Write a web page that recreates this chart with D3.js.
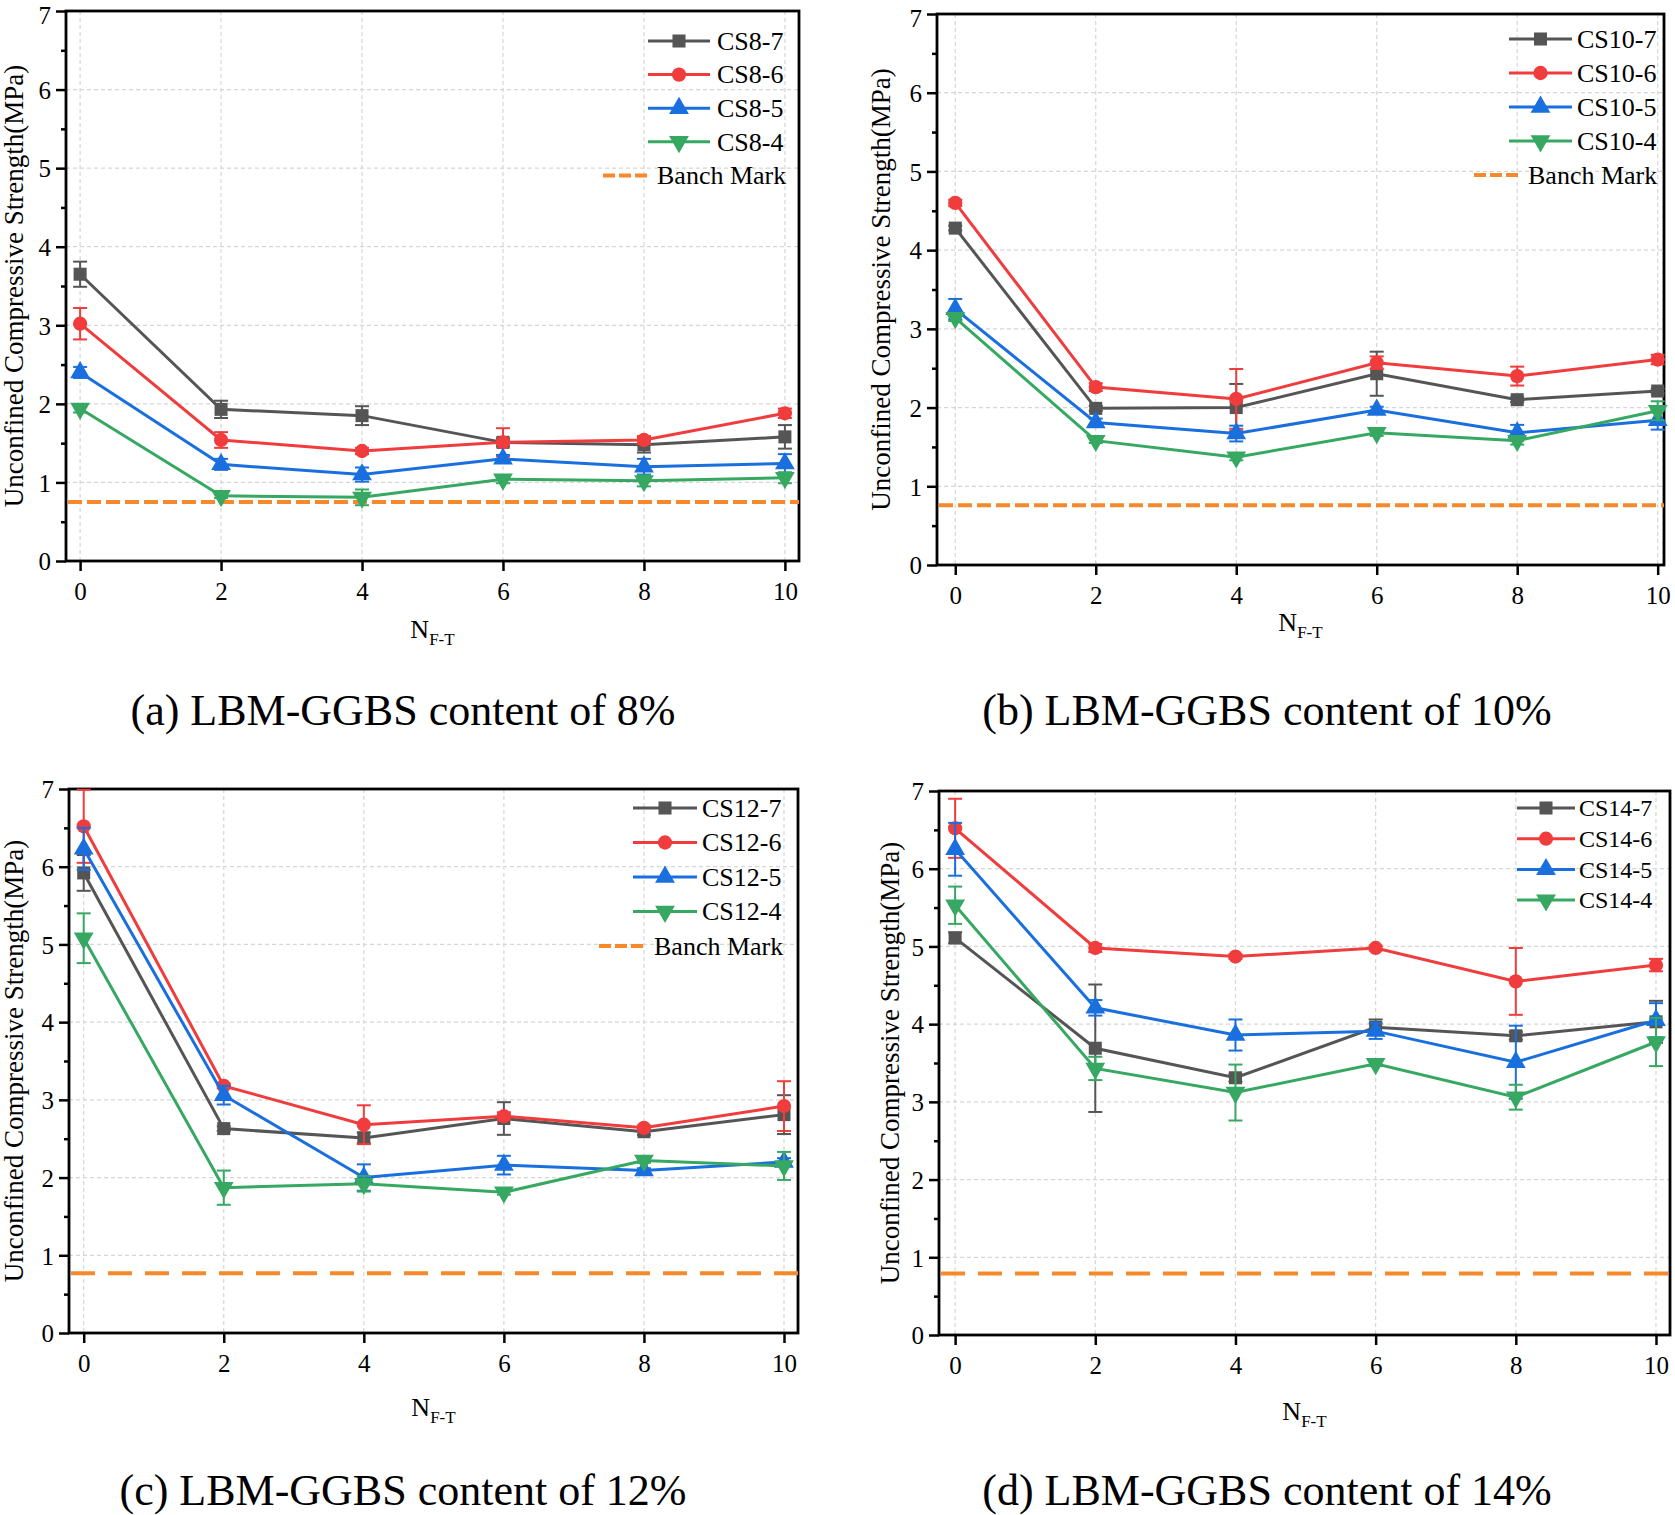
<!DOCTYPE html>
<html>
<head>
<meta charset="utf-8">
<script src="https://cdn.jsdelivr.net/npm/d3@7"></script>
<style>
  body { margin: 0; background: #fff; }
  svg { display: block; }
  text { font-family: "Liberation Serif", "Times New Roman", serif; fill: #000; }
</style>
</head>
<body>
<div id="chart"></div>
<script>
// ---- data ----
var cycles = [0, 2, 4, 6, 8, 10];
var yTicks = [0, 1, 2, 3, 4, 5, 6, 7];

var namesA = ["CS8-7", "CS8-6", "CS8-5", "CS8-4"];
var meanA = [
  [3.65, 1.93, 1.85, 1.51, 1.48, 1.58],
  [3.02, 1.54, 1.40, 1.51, 1.54, 1.88],
  [2.40, 1.23, 1.10, 1.30, 1.20, 1.24],
  [1.94, 0.83, 0.81, 1.04, 1.02, 1.06]
];
var errA = [
  [0.16, 0.11, 0.12, 0.05, 0.10, 0.15],
  [0.20, 0.10, 0.04, 0.18, 0.05, 0.06],
  [0.07, 0.07, 0.09, 0.05, 0.10, 0.12],
  [0.05, 0.03, 0.10, 0.05, 0.07, 0.07]
];

var namesB = ["CS10-7", "CS10-6", "CS10-5", "CS10-4"];
var meanB = [
  [4.28, 1.99, 2.00, 2.43, 2.10, 2.21],
  [4.60, 2.26, 2.11, 2.57, 2.40, 2.61],
  [3.25, 1.81, 1.67, 1.97, 1.68, 1.84],
  [3.14, 1.58, 1.37, 1.68, 1.58, 1.96]
];
var errB = [
  [0.03, 0.03, 0.30, 0.28, 0.03, 0.03],
  [0.04, 0.05, 0.38, 0.08, 0.12, 0.06],
  [0.13, 0.05, 0.10, 0.04, 0.10, 0.12],
  [0.04, 0.03, 0.04, 0.04, 0.05, 0.12]
];

var namesC = ["CS12-7", "CS12-6", "CS12-5", "CS12-4"];
var meanC = [
  [5.92, 2.63, 2.51, 2.76, 2.59, 2.81],
  [6.52, 3.18, 2.68, 2.79, 2.64, 2.92],
  [6.23, 3.06, 2.00, 2.16, 2.09, 2.20],
  [5.08, 1.87, 1.92, 1.81, 2.22, 2.15]
];
var errC = [
  [0.23, 0.03, 0.07, 0.21, 0.04, 0.25],
  [0.47, 0.03, 0.25, 0.05, 0.03, 0.32],
  [0.27, 0.12, 0.17, 0.12, 0.03, 0.05],
  [0.32, 0.22, 0.10, 0.03, 0.03, 0.18]
];

var namesD = ["CS14-7", "CS14-6", "CS14-5", "CS14-4"];
var meanD = [
  [5.11, 3.69, 3.31, 3.96, 3.85, 4.03],
  [6.52, 4.98, 4.87, 4.98, 4.55, 4.76],
  [6.25, 4.21, 3.86, 3.91, 3.51, 4.05],
  [5.53, 3.43, 3.12, 3.49, 3.06, 3.77]
];
var errD = [
  [0.07, 0.82, 0.05, 0.10, 0.05, 0.27],
  [0.38, 0.05, 0.03, 0.03, 0.43, 0.08],
  [0.34, 0.10, 0.20, 0.10, 0.47, 0.22],
  [0.24, 0.15, 0.36, 0.03, 0.16, 0.31]
];

var benchMarks = [0.75, 0.76, 0.77, 0.79];
var captions = ["(a) LBM-GGBS content of 8%", "(b) LBM-GGBS content of 10%",
                "(c) LBM-GGBS content of 12%", "(d) LBM-GGBS content of 14%"];

// ---- styles / layout ----
var colors = ["#555555", "#f03c3c", "#1a6fdf", "#36a862"];
var orange = "#f5892b";
var symbols = [d3.symbolSquare, d3.symbolCircle, d3.symbolTriangle, d3.symbolTriangle];
var symSize = [170, 160, 170, 170];
var symRot = [0, 0, 0, 180];

var panels = [
  {names: namesA, mean: meanA, err: errA, left: 66, right: 799, top: 11, bottom: 561, xd: [-0.2, 10.2],
   ytX: 23, xtY: 638, capX: 403, capY: 725, legY: 41, legDy: 33.6, legL: 648, legR: 710, legT: 717, legFs: 26,
   benchLeg: [603, 647, 657], benchEnd: 799, dash: "14,5"},
  {names: namesB, mean: meanB, err: errB, left: 937, right: 1664, top: 14, bottom: 565, xd: [-0.26, 10.09],
   ytX: 890, xtY: 631, capX: 1267, capY: 725, legY: 39, legDy: 34, legL: 1509, legR: 1572, legT: 1577, legFs: 26,
   benchLeg: [1474, 1519, 1528], benchEnd: 1664, dash: "14,5"},
  {names: namesC, mean: meanC, err: errC, left: 69, right: 798, top: 789, bottom: 1333, xd: [-0.21, 10.2],
   ytX: 23, xtY: 1416, capX: 403, capY: 1505, legY: 808, legDy: 34.5, legL: 633, legR: 697, legT: 702, legFs: 26,
   benchLeg: [599, 645, 654], benchEnd: 806, dash: "24,13"},
  {names: namesD, mean: meanD, err: errD, left: 939, right: 1670, top: 791, bottom: 1335, xd: [-0.23, 10.2],
   ytX: 899, xtY: 1420, capX: 1267, capY: 1505, legY: 808, legDy: 30.7, legL: 1517, legR: 1575, legT: 1579, legFs: 24,
   benchLeg: null, benchEnd: 1675, dash: "24,13"}
];

var svg = d3.select("#chart").append("svg")
    .attr("width", 1675)
    .attr("height", 1515);

panels.forEach(function(p, pi){
  var x = d3.scaleLinear().domain(p.xd).range([p.left, p.right]);
  var y = d3.scaleLinear().domain([0, 7]).range([p.bottom, p.top]);
  var g = svg.append("g");

  // grid
  g.selectAll(".gx").data(cycles).enter().append("line")
    .attr("x1", function(d){return x(d);}).attr("x2", function(d){return x(d);})
    .attr("y1", p.top).attr("y2", p.bottom)
    .style("stroke", "#d6d6d6").style("stroke-width", 1.2).style("stroke-dasharray", "4,3");
  g.selectAll(".gy").data(yTicks.slice(1, 7)).enter().append("line")
    .attr("y1", function(d){return y(d);}).attr("y2", function(d){return y(d);})
    .attr("x1", p.left).attr("x2", p.right)
    .style("stroke", "#d6d6d6").style("stroke-width", 1.2).style("stroke-dasharray", "4,3");

  // axes
  var yAxis = d3.axisLeft(y).tickValues(yTicks).tickSize(10).tickPadding(5).tickFormat(d3.format("d"));
  var ya = g.append("g").attr("transform", "translate(" + p.left + ",0)").call(yAxis);
  var yMinor = d3.axisLeft(y).tickValues(d3.range(0.5, 7, 1)).tickSize(5).tickFormat("");
  var ym = g.append("g").attr("transform", "translate(" + p.left + ",0)").call(yMinor);
  ym.select(".domain").remove();

  var xAxis = d3.axisBottom(x).tickValues(cycles).tickSize(10).tickPadding(6).tickFormat(d3.format("d"));
  var xa = g.append("g").attr("transform", "translate(0," + p.bottom + ")").call(xAxis);

  [ya, ym, xa].forEach(function(a){
    a.selectAll("line").style("stroke", "#000").style("stroke-width", 2.5);
    a.selectAll("text").style("font-size", "25px").style("font-family", "Liberation Serif");
    a.select(".domain").remove();
  });
  xa.selectAll("text").attr("dy", "0.9em");
  ya.selectAll("text").attr("dy", function(d){ return (d === 7 && p.top < 20) ? "0.5em" : "0.35em"; });

  // frame
  g.append("rect")
    .attr("x", p.left).attr("y", p.top)
    .attr("width", p.right - p.left).attr("height", p.bottom - p.top)
    .style("fill", "none").style("stroke", "#000").style("stroke-width", 2.8);

  // benchmark
  g.append("line")
    .attr("x1", p.left + 2).attr("x2", p.benchEnd)
    .attr("y1", y(benchMarks[pi])).attr("y2", y(benchMarks[pi]))
    .style("stroke", orange).style("stroke-width", 4).style("stroke-dasharray", p.dash);

  // series
  var line = d3.line().x(function(d, i){return x(cycles[i]);}).y(function(d){return y(d);});
  p.mean.forEach(function(vals, si){
    var c = colors[si];
    var sg = g.append("g");
    sg.append("path").datum(vals).attr("d", line)
      .style("fill", "none").style("stroke", c).style("stroke-width", 3);
    var eb = sg.selectAll(".eb").data(vals).enter().append("g");
    eb.append("line")
      .attr("x1", function(d, i){return x(cycles[i]);}).attr("x2", function(d, i){return x(cycles[i]);})
      .attr("y1", function(d, i){return y(d - p.err[si][i]);})
      .attr("y2", function(d, i){return y(d + p.err[si][i]);})
      .style("stroke", c).style("stroke-width", 2);
    [-1, 1].forEach(function(sgn){
      eb.append("line")
        .attr("x1", function(d, i){return x(cycles[i]) - 7;}).attr("x2", function(d, i){return x(cycles[i]) + 7;})
        .attr("y1", function(d, i){return y(d + sgn * p.err[si][i]);})
        .attr("y2", function(d, i){return y(d + sgn * p.err[si][i]);})
        .style("stroke", c).style("stroke-width", 2);
    });
    sg.selectAll(".mk").data(vals).enter().append("path")
      .attr("d", d3.symbol().type(symbols[si]).size(symSize[si]))
      .attr("transform", function(d, i){
        return "translate(" + x(cycles[i]) + "," + y(d) + ") rotate(" + symRot[si] + ")";
      })
      .style("fill", c);
  });

  // legend
  p.names.forEach(function(nm, si){
    var ly = p.legY + si * p.legDy;
    g.append("line").attr("x1", p.legL).attr("x2", p.legR).attr("y1", ly).attr("y2", ly)
      .style("stroke", colors[si]).style("stroke-width", 3);
    g.append("path")
      .attr("d", d3.symbol().type(symbols[si]).size(symSize[si]))
      .attr("transform", "translate(" + ((p.legL + p.legR) / 2) + "," + ly + ") rotate(" + symRot[si] + ")")
      .style("fill", colors[si]);
    g.append("text").attr("x", p.legT).attr("y", ly).attr("dy", "0.34em")
      .style("font-size", p.legFs + "px").text(nm);
  });
  if (p.benchLeg) {
    var by = p.legY + 4 * p.legDy;
    g.append("line").attr("x1", p.benchLeg[0]).attr("x2", p.benchLeg[1]).attr("y1", by).attr("y2", by)
      .style("stroke", orange).style("stroke-width", 4).style("stroke-dasharray", "12,4");
    g.append("text").attr("x", p.benchLeg[2]).attr("y", by).attr("dy", "0.34em")
      .style("font-size", p.legFs + "px").text("Banch Mark");
  }

  // axis titles
  g.append("text")
    .attr("transform", "translate(" + p.ytX + "," + ((p.top + p.bottom) / 2) + ") rotate(-90)")
    .attr("text-anchor", "middle")
    .style("font-size", "27px")
    .text("Unconfined Compressive Strength(MPa)");
  var xt = g.append("text")
    .attr("x", (p.left + p.right) / 2).attr("y", p.xtY)
    .attr("text-anchor", "middle")
    .style("font-size", "26px");
  xt.append("tspan").text("N");
  xt.append("tspan").attr("dy", 7).style("font-size", "17px").text("F-T");

  // caption
  svg.append("text")
    .attr("x", p.capX).attr("y", p.capY)
    .attr("text-anchor", "middle")
    .style("font-size", "44px")
    .text(captions[pi]);
});
</script>
</body>
</html>
